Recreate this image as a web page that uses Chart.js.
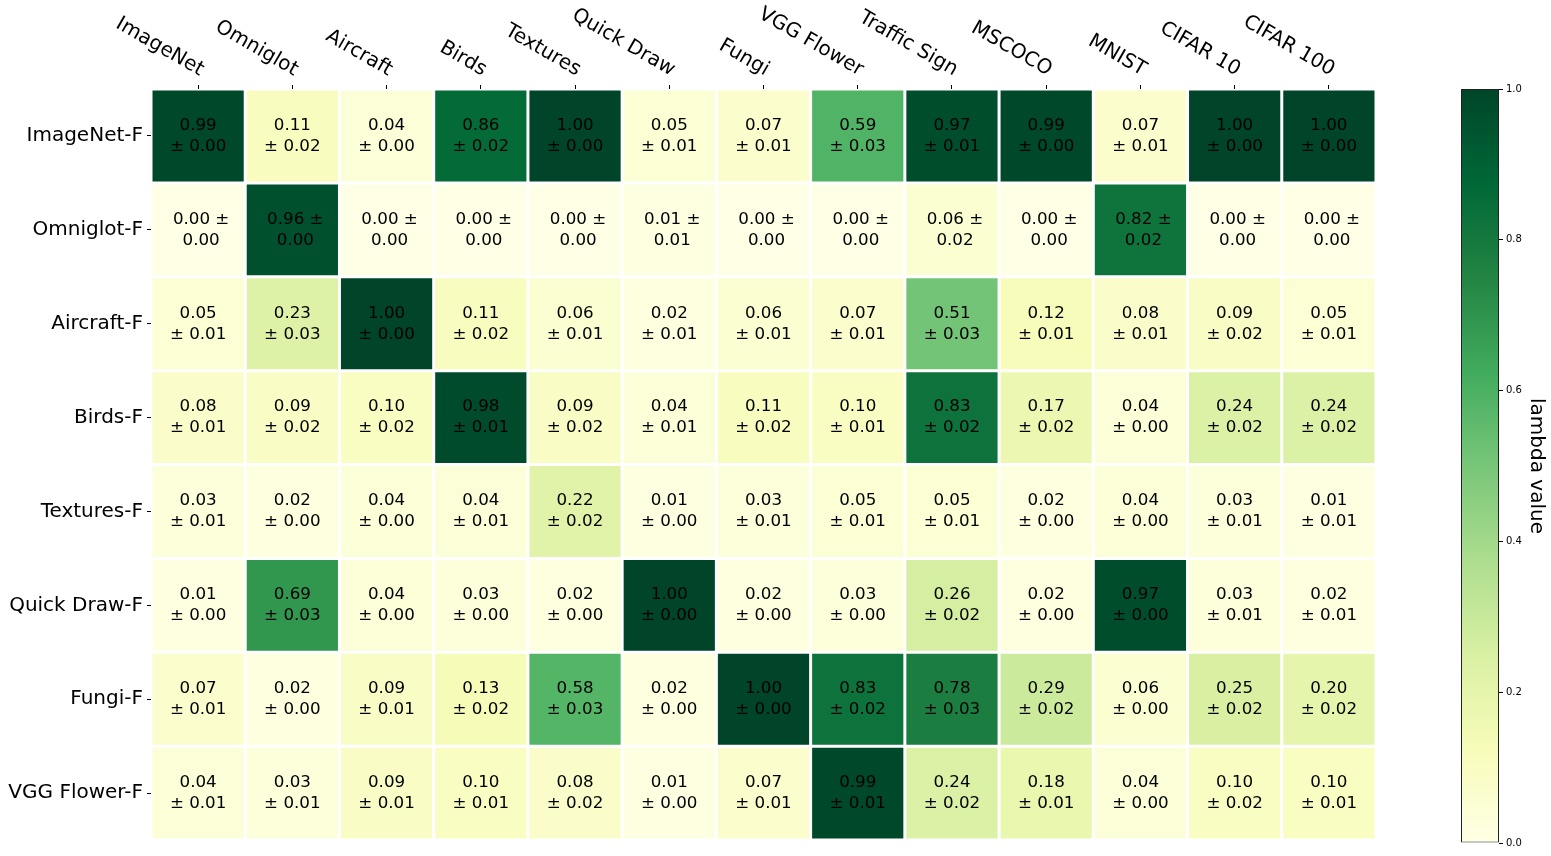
<!DOCTYPE html>
<html><head><meta charset="utf-8">
<script src="https://cdn.jsdelivr.net/npm/chart.js@4.4.0/dist/chart.umd.min.js"></script>
<style>
html,body{margin:0;padding:0;background:#fff;overflow:hidden;}
#main{position:absolute;left:0;top:0;}
#cbar{position:absolute;left:1400px;top:0;}
</style></head><body>
<canvas id="main" width="1400" height="856"></canvas>
<canvas id="cbar" width="151" height="856"></canvas>
<script>
const columns = ['ImageNet','Omniglot','Aircraft','Birds','Textures','Quick Draw','Fungi','VGG Flower','Traffic Sign','MSCOCO','MNIST','CIFAR 10','CIFAR 100'];
const rows = ['ImageNet-F','Omniglot-F','Aircraft-F','Birds-F','Textures-F','Quick Draw-F','Fungi-F','VGG Flower-F'];

const meanImageNetF  = [0.99,0.11,0.04,0.86,1.00,0.05,0.07,0.59,0.97,0.99,0.07,1.00,1.00];
const stdImageNetF   = [0.00,0.02,0.00,0.02,0.00,0.01,0.01,0.03,0.01,0.00,0.01,0.00,0.00];
const meanOmniglotF  = [0.00,0.96,0.00,0.00,0.00,0.01,0.00,0.00,0.06,0.00,0.82,0.00,0.00];
const stdOmniglotF   = [0.00,0.00,0.00,0.00,0.00,0.01,0.00,0.00,0.02,0.00,0.02,0.00,0.00];
const meanAircraftF  = [0.05,0.23,1.00,0.11,0.06,0.02,0.06,0.07,0.51,0.12,0.08,0.09,0.05];
const stdAircraftF   = [0.01,0.03,0.00,0.02,0.01,0.01,0.01,0.01,0.03,0.01,0.01,0.02,0.01];
const meanBirdsF     = [0.08,0.09,0.10,0.98,0.09,0.04,0.11,0.10,0.83,0.17,0.04,0.24,0.24];
const stdBirdsF      = [0.01,0.02,0.02,0.01,0.02,0.01,0.02,0.01,0.02,0.02,0.00,0.02,0.02];
const meanTexturesF  = [0.03,0.02,0.04,0.04,0.22,0.01,0.03,0.05,0.05,0.02,0.04,0.03,0.01];
const stdTexturesF   = [0.01,0.00,0.00,0.01,0.02,0.00,0.01,0.01,0.01,0.00,0.00,0.01,0.01];
const meanQuickDrawF = [0.01,0.69,0.04,0.03,0.02,1.00,0.02,0.03,0.26,0.02,0.97,0.03,0.02];
const stdQuickDrawF  = [0.00,0.03,0.00,0.00,0.00,0.00,0.00,0.00,0.02,0.00,0.00,0.01,0.01];
const meanFungiF     = [0.07,0.02,0.09,0.13,0.58,0.02,1.00,0.83,0.78,0.29,0.06,0.25,0.20];
const stdFungiF      = [0.01,0.00,0.01,0.02,0.03,0.00,0.00,0.02,0.03,0.02,0.00,0.02,0.02];
const meanVGGFlowerF = [0.04,0.03,0.09,0.10,0.08,0.01,0.07,0.99,0.24,0.18,0.04,0.10,0.10];
const stdVGGFlowerF  = [0.01,0.01,0.01,0.01,0.02,0.00,0.01,0.01,0.02,0.01,0.00,0.02,0.01];

const colorbarTicks = [0.0, 0.2, 0.4, 0.6, 0.8, 1.0];
const colorbarLabel = 'lambda value';

const meanRows = [meanImageNetF, meanOmniglotF, meanAircraftF, meanBirdsF, meanTexturesF, meanQuickDrawF, meanFungiF, meanVGGFlowerF];
const stdRows  = [stdImageNetF, stdOmniglotF, stdAircraftF, stdBirdsF, stdTexturesF, stdQuickDrawF, stdFungiF, stdVGGFlowerF];
const wrapAfterPm = [false, true, false, false, false, false, false, false];

const FONT = '"DejaVu Sans", sans-serif';
const ylgnStops = ['#ffffe5','#f7fcb9','#d9f0a3','#addd8e','#78c679','#41ab5d','#238443','#006837','#004529'];
function hex2rgb(h){return [parseInt(h.slice(1,3),16),parseInt(h.slice(3,5),16),parseInt(h.slice(5,7),16)];}
const ylgnRGB = ylgnStops.map(hex2rgb);
function ylgn(v){
  v = Math.max(0, Math.min(1, v));
  const t = v * (ylgnRGB.length - 1);
  const i = Math.min(Math.floor(t), ylgnRGB.length - 2);
  const f = t - i;
  const a = ylgnRGB[i], b = ylgnRGB[i+1];
  const c = a.map((x, k) => Math.round(x + (b[k] - x) * f));
  return `rgb(${c[0]},${c[1]},${c[2]})`;
}

const cellText = {
  id: 'cellText',
  afterDatasetsDraw(chart) {
    const ctx = chart.ctx;
    ctx.save();
    ctx.font = '16.7px ' + FONT;
    ctx.fillStyle = '#000';
    ctx.textAlign = 'center';
    ctx.textBaseline = 'middle';
    chart.data.datasets.forEach((ds, r) => {
      const meta = chart.getDatasetMeta(r);
      meta.data.forEach((el, c) => {
        const p = el.getCenterPoint();
        const m = meanRows[r][c].toFixed(2), s = stdRows[r][c].toFixed(2);
        const lines = wrapAfterPm[r] ? [m + ' \u00b1', s] : [m, '\u00b1 ' + s];
        const dx = wrapAfterPm[r] ? 3 : 0;
        ctx.fillText(lines[0], p.x + dx, p.y - 10.5);
        ctx.fillText(lines[1], p.x + dx, p.y + 10.5);
      });
    });
    ctx.restore();
  }
};

const topLabels = {
  id: 'topLabels',
  afterDraw(chart) {
    const sc = chart.scales.x;
    const ctx = chart.ctx;
    ctx.save();
    ctx.font = '20px ' + FONT;
    ctx.fillStyle = '#000';
    ctx.textAlign = 'right';
    ctx.textBaseline = 'bottom';
    columns.forEach((lab, i) => {
      const x = sc.getPixelForTick(i);
      ctx.save();
      ctx.translate(x - 1, chart.chartArea.top - 9);
      ctx.rotate(Math.PI / 6);
      ctx.fillText(lab, 0, 0);
      ctx.restore();
    });
    ctx.restore();
  }
};

new Chart(document.getElementById('main'), {
  type: 'bar',
  data: {
    labels: columns,
    datasets: rows.map((rname, r) => ({
      label: rname,
      data: columns.map(() => [r, r + 1]),
      backgroundColor: meanRows[r].map(ylgn),
      borderColor: '#ffffff',
      borderWidth: 1.5,
      borderSkipped: false,
      grouped: false,
      barPercentage: 1,
      categoryPercentage: 1,
      inflateAmount: 0
    }))
  },
  options: {
    responsive: false,
    animation: false,
    events: [],
    layout: { padding: { left: 0, right: 24, top: 0, bottom: 13 } },
    plugins: { legend: { display: false }, tooltip: { enabled: false } },
    scales: {
      x: {
        position: 'top',
        offset: true,
        grid: { offset: false, drawOnChartArea: false, drawTicks: true, tickLength: 4, tickColor: '#000', tickWidth: 1 },
        border: { display: false },
        ticks: { display: false },
        afterFit(s) { s.height = 89; }
      },
      y: {
        type: 'linear',
        reverse: true,
        min: 0,
        max: rows.length,
        grid: { drawOnChartArea: false, drawTicks: true, tickLength: 4, tickColor: '#000', tickWidth: 1 },
        border: { display: false },
        ticks: { autoSkip: false, color: '#000', font: { family: FONT, size: 20 }, padding: 4,
                 callback: (v, i) => rows[i] },
        afterBuildTicks(s) { s.ticks = rows.map((_, i) => ({ value: i + 0.5 })); },
        afterFit(s) { s.width = 151; }
      }
    }
  },
  plugins: [cellText, topLabels]
});

new Chart(document.getElementById('cbar'), {
  type: 'bar',
  data: {
    labels: [colorbarLabel],
    datasets: [{
      data: [[colorbarTicks[0], colorbarTicks[colorbarTicks.length - 1]]],
      backgroundColor: (c) => {
        const a = c.chart.chartArea;
        if (!a) return ylgn(0.5);
        const g = c.chart.ctx.createLinearGradient(0, a.bottom, 0, a.top);
        ylgnStops.forEach((col, i) => g.addColorStop(i / (ylgnStops.length - 1), col));
        return g;
      },
      borderColor: '#222',
      borderWidth: 1,
      borderSkipped: false,
      barPercentage: 1,
      categoryPercentage: 1,
      inflateAmount: 0
    }]
  },
  options: {
    responsive: false,
    animation: false,
    events: [],
    layout: { padding: { left: 61, right: 0, top: 89, bottom: 13 } },
    plugins: { legend: { display: false }, tooltip: { enabled: false } },
    scales: {
      x: { display: false, offset: true },
      y: {
        position: 'right',
        min: 0, max: 1,
        grid: { drawOnChartArea: false, drawTicks: true, tickLength: 4, tickColor: '#000', tickWidth: 1 },
        border: { display: false },
        ticks: { color: '#000', font: { family: FONT, size: 10 }, padding: 3, autoSkip: false,
                 callback: (v) => Number(v).toFixed(1) },
        afterBuildTicks(s) { s.ticks = colorbarTicks.map(v => ({ value: v })); },
        title: { display: true, text: colorbarLabel, color: '#000', font: { family: FONT, size: 20 }, padding: { top: 3, bottom: 0 } },
        afterFit(s) { s.width = 52; }
      }
    }
  }
});
</script>
</body></html>
